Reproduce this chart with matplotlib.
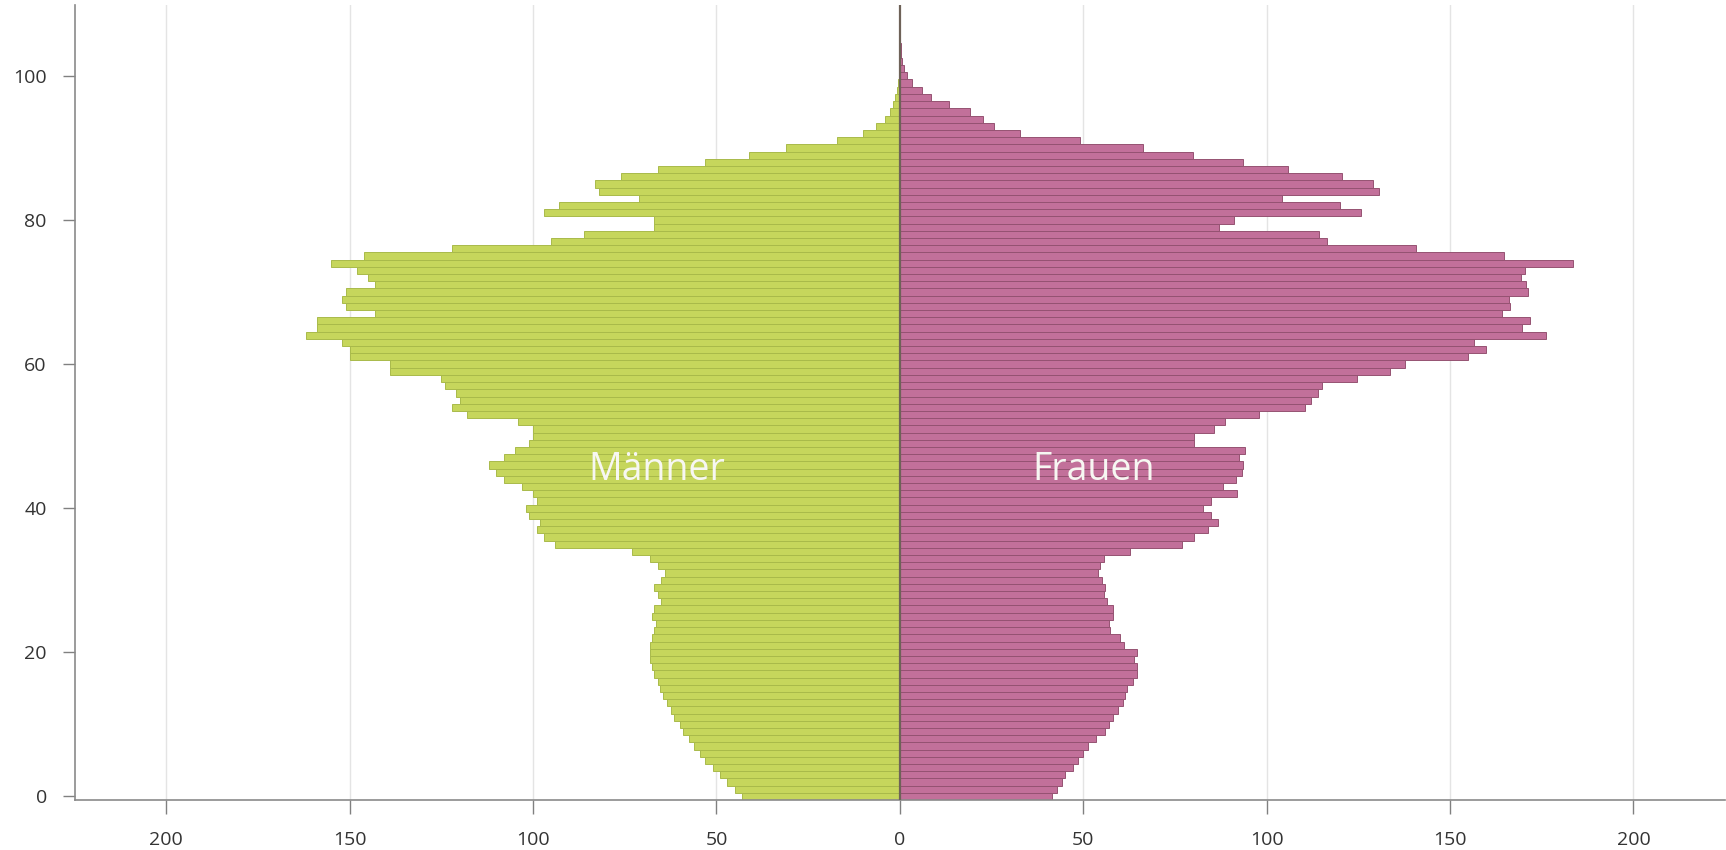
import matplotlib
matplotlib.use("Agg")
import matplotlib.pyplot as plt
import numpy as np

# population by single year of age (thousands)
ages = list(range(0, 106))

maenner = [
    43, 45, 47, 49, 51, 53, 54.5, 56, 57.5, 59,
    60, 61.5, 62.5, 63.5, 64.5, 65.5, 66, 67, 67.5, 68,
    68, 68, 67.5, 67, 66.5, 67.5, 67, 65, 66, 67,
    65, 64, 66, 68, 73, 94, 97, 99, 98, 101,
    102, 99, 100, 103, 108, 110, 112, 108, 105, 101,
    100, 100, 104, 118, 122, 120, 121, 124, 125, 139,
    139, 150, 150, 152, 162, 159, 159, 143, 151, 152,
    151, 143, 145, 148, 155, 146, 122, 95, 86, 67,
    67, 97, 93, 71, 82, 83, 76, 66, 53, 41,
    31, 17, 10, 6.5, 4, 2.6, 1.8, 1.2, 0.8, 0.5,
    0.3, 0.2, 0.1, 0.1, 0.05, 0.05,
]

frauen = [
    41.4, 42.9, 44.2, 44.9, 47.1, 48.7, 49.8, 51.3, 53.6, 55.9,
    57.1, 58.2, 59.4, 60.8, 61.5, 62.0, 63.5, 64.6, 64.6, 63.8,
    64.7, 61.2, 60.0, 57.4, 57.1, 58.2, 58.2, 56.5, 55.6, 55.9,
    55.1, 53.9, 54.7, 55.6, 62.7, 76.9, 80.3, 84.1, 86.7, 84.8,
    82.6, 84.8, 92.0, 88.2, 91.7, 93.2, 93.5, 92.5, 94.0, 80.3,
    80.3, 85.6, 88.6, 97.8, 110.5, 112, 114.1, 115.0, 124.7, 133.6,
    137.8, 154.9, 159.9, 156.4, 176.2, 169.7, 171.9, 164.3, 166.3, 166.0,
    171.2, 170.6, 169.4, 170.4, 183.5, 164.8, 140.7, 116.4, 114.2, 87.1,
    91.2, 125.7, 119.9, 104.3, 130.5, 129.0, 120.6, 105.7, 93.5, 80.0,
    66.3, 49.0, 32.7, 25.7, 22.7, 19.0, 13.5, 8.4, 6.1, 3.3,
    2.0, 1.2, 0.7, 0.4, 0.2, 0.1,
]

xticks = [-200, -150, -100, -50, 0, 50, 100, 150, 200]
yticks = [0, 20, 40, 60, 80, 100]

green = "#c6d65c"
green_edge = "#a9ba4a"
pink = "#c2709a"
pink_edge = "#955272"

plt.rcParams["font.family"] = ["Open Sans", "DejaVu Sans"]

fig = plt.figure(figsize=(17.26, 8.5), dpi=100)
ax = fig.add_axes([0.0432, 0.0588, 0.9563, 0.935])

ax.barh(ages, [-v for v in maenner], height=1.0, color=green,
        edgecolor=green_edge, linewidth=0.7, zorder=2)
ax.barh(ages, frauen, height=1.0, color=pink,
        edgecolor=pink_edge, linewidth=0.7, zorder=2)
ax.axvline(0, color="#6e6258", lw=1.6, zorder=3)

ax.set_xlim(-225, 225)
ax.set_ylim(-0.5, 109.8)

ax.set_xticks(xticks)
ax.set_xticklabels([str(abs(t)) for t in xticks])
ax.set_yticks(yticks)

for t in xticks:
    if t != 0:
        ax.axvline(t, color="#e4e4e4", lw=1.0, zorder=0)

ax.tick_params(axis="both", colors="#808080", labelcolor="#333333",
               labelsize=14, width=1)
ax.tick_params(axis="x", length=10, pad=12)
ax.tick_params(axis="y", length=9, pad=11)

for side in ["top", "right"]:
    ax.spines[side].set_visible(False)
for side in ["left", "bottom"]:
    ax.spines[side].set_color("#8a8a8a")
    ax.spines[side].set_linewidth(1.2)

ax.text(-66.2, 43.9, "Männer", color="#f7f7f2", fontsize=27,
        ha="center", va="baseline", zorder=4)
ax.text(52.9, 43.9, "Frauen", color="#f7f7f2", fontsize=27,
        ha="center", va="baseline", zorder=4)

fig.savefig("out.png", dpi=100)
